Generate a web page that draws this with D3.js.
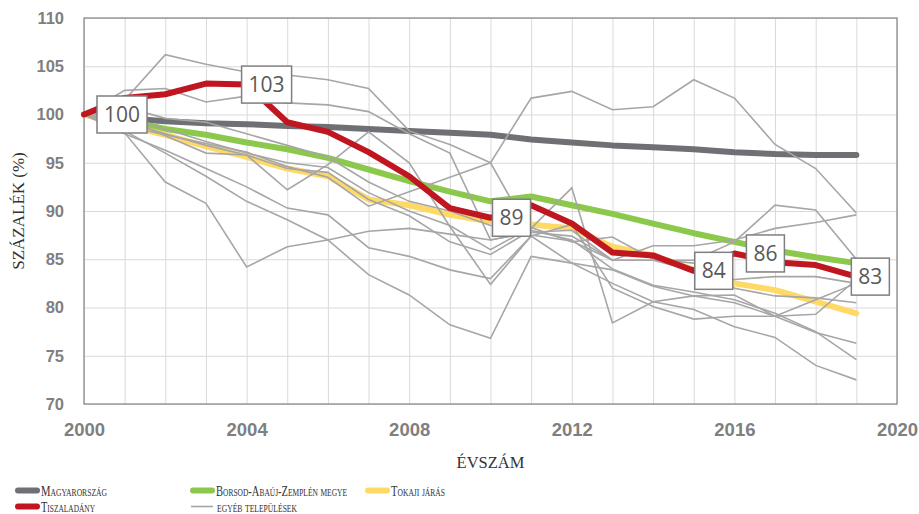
<!DOCTYPE html>
<html>
<head>
<meta charset="utf-8">
<script src="https://d3js.org/d3.v7.min.js"></script>
<style>
  body { margin: 0; background: #fff; }
  svg { display: block; }
  .tick text { font-family: "Liberation Sans", Arial, sans-serif; font-weight: bold; fill: #7f7f7f; }
  .title { font-family: "Liberation Serif", "DejaVu Serif", serif; fill: #333; }
  .leg { font-family: "Liberation Serif", "DejaVu Serif", serif; font-variant: small-caps; fill: #333; }
</style>
</head>
<body>
<svg></svg>
<script>
// years and series
var years = d3.range(2000, 2020);

var magyarorszag = [100, 99.6, 99.3, 99.1, 99.0, 98.8, 98.7, 98.5, 98.3, 98.1, 97.9, 97.4, 97.1, 96.8, 96.6, 96.4, 96.1, 95.9, 95.8, 95.8];
var borsod = [100, 99.4, 98.5, 97.9, 97.1, 96.4, 95.5, 94.3, 93.1, 92.0, 91.0, 91.5, 90.6, 89.7, 88.7, 87.7, 86.8, 85.9, 85.2, 84.6];
var tokaji = [100, 98.9, 97.9, 96.7, 95.6, 94.4, 93.6, 91.2, 90.6, 89.6, 88.9, 88.6, 88.2, 86.3, 85.4, 83.9, 82.5, 81.8, 80.6, 79.4];
var tiszaladany = [100, 101.7, 102.1, 103.2, 103.1, 99.2, 98.2, 96.1, 93.6, 90.3, 89.3, 90.6, 88.7, 85.7, 85.4, 83.8, 85.6, 84.7, 84.4, 83.2];

var egyeb = [
  [100, 101.5, 106.2, 105.2, 104.4, 104.1, 103.6, 102.7, 98.3, 96.9, 95.0, 101.7, 102.4, 100.5, 100.8, 103.6, 101.7, 96.9, 94.4, 89.8],
  [100, 102.5, 102.7, 101.3, 101.9, 101.2, 101.0, 100.3, 98.0, 96.0, 87.0, 87.8, 87.4, 84.9, 84.9, 84.9, 86.8, 90.6, 90.1, 85.0],
  [100, 99.6, 97.8, 96.0, 95.8, 92.2, 94.8, 98.2, 95.0, 88.4, 82.4, 87.4, 88.6, 82.0, 80.1, 78.8, 79.1, 79.1, 80.8, 82.5],
  [100, 98.8, 97.9, 97.0, 96.1, 94.6, 93.5, 90.5, 92.0, 93.5, 95.0, 87.5, 86.9, 84.9, 84.9, 83.8, 82.9, 83.2, 83.2, 82.5],
  [100, 98.1, 93.0, 90.8, 84.2, 86.3, 87.0, 87.9, 88.2, 87.6, 87.0, 87.8, 88.0, 84.9, 86.4, 86.4, 87.0, 88.2, 88.8, 89.6],
  [100, 98.0, 96.3, 94.4, 92.5, 90.3, 89.6, 86.2, 85.3, 83.9, 83.0, 87.4, 84.6, 83.9, 82.2, 81.2, 80.5, 79.1, 77.4, 76.3],
  [100, 98.3, 96.0, 93.6, 91.0, 89.1, 87.0, 83.4, 81.3, 78.2, 76.8, 85.3, 84.6, 82.5, 80.6, 79.8, 78.0, 76.9, 74.0, 72.5],
  [100, 99.3, 98.0, 96.8, 95.8, 94.4, 94.0, 91.2, 89.5, 86.8, 85.5, 88.0, 87.0, 84.0, 82.3, 81.6, 80.8, 79.4, 77.5, 74.6],
  [100, 99.8, 98.5, 97.2, 96.0, 95.0, 94.5, 91.9, 90.0, 88.5, 86.0, 88.3, 86.8, 87.3, 85.0, 84.6, 82.0, 81.2, 81.0, 80.5],
  [100, 100.8, 99.6, 99.2, 98.0, 96.8, 95.6, 93.0, 91.0, 90.0, 88.5, 88.2, 92.4, 78.4, 80.6, 81.2, 81.3, 79.1, 79.3, 82.9]
];

// data labels on the Tiszaladány line
var labelYears = [2000, 2004, 2010, 2015, 2016, 2019];
var labelTexts = ['100', '103', '89', '84', '86', '83'];
var labelShift = [38, 20, 21, 20, 31, 14];

var yTicks = [70, 75, 80, 85, 90, 95, 100, 105, 110];
var xTicks = [2000, 2004, 2008, 2012, 2016, 2020];

// size
var margin = {top: 18, right: 22, bottom: 110, left: 84},
    W = 919, H = 514,
    width = W - margin.left - margin.right,
    height = H - margin.top - margin.bottom;

var x = d3.scaleLinear().domain([2000, 2020]).range([0, width]);
var y = d3.scaleLinear().domain([70, 110]).range([height, 0]);

var svg = d3.select('svg').attr('width', W).attr('height', H);
var g = svg.append('g').attr('transform', 'translate(' + margin.left + ',' + margin.top + ')');

// grid
g.append('g')
    .call(d3.axisLeft(y).tickValues(yTicks).tickSize(-width).tickFormat(''))
    .call(function (s) { s.select('.domain').remove(); s.selectAll('line').attr('stroke', '#d9d9d9'); });
g.append('g')
    .attr('transform', 'translate(0,' + height + ')')
    .call(d3.axisBottom(x).tickValues(d3.range(2000, 2021)).tickSize(-height).tickFormat(''))
    .call(function (s) { s.select('.domain').remove(); s.selectAll('line').attr('stroke', '#d9d9d9'); });

// frame
g.append('rect')
    .attr('width', width).attr('height', height)
    .attr('fill', 'none').attr('stroke', '#8c8c8c').attr('stroke-width', 1.3);

// tick labels
g.append('g')
    .call(d3.axisLeft(y).tickValues(yTicks).tickSize(0).tickPadding(20))
    .call(function (s) { s.select('.domain').remove(); s.selectAll('text').style('font-size', '16.5px'); });
g.append('g')
    .attr('transform', 'translate(0,' + height + ')')
    .call(d3.axisBottom(x).tickValues(xTicks).tickFormat(d3.format('d')).tickSize(0).tickPadding(19))
    .call(function (s) { s.select('.domain').remove(); s.selectAll('text').style('font-size', '18.5px'); });

// axis titles
svg.append('text').attr('class', 'title')
    .attr('transform', 'translate(23.5,' + (margin.top + height / 2) + ') rotate(-90)')
    .attr('text-anchor', 'middle')
    .style('font-size', '17px')
    .text('SZÁZALÉK (%)');
svg.append('text').attr('class', 'title')
    .attr('x', margin.left + width / 2).attr('y', 468)
    .attr('text-anchor', 'middle')
    .style('font-size', '16.5px')
    .text('ÉVSZÁM');

var line = d3.line()
    .x(function (d, i) { return x(years[i]); })
    .y(function (d) { return y(d); });

function thick(data, color) {
    g.append('path').datum(data)
        .attr('d', line)
        .attr('fill', 'none')
        .attr('stroke', color)
        .attr('stroke-width', 6)
        .attr('stroke-linecap', 'round')
        .attr('stroke-linejoin', 'round');
}

thick(magyarorszag, '#6f7074');
thick(borsod, '#8cc84b');
thick(tokaji, '#ffd966');

// other settlements
g.selectAll('.egyeb').data(egyeb)
    .enter().append('path')
    .attr('class', 'egyeb')
    .attr('d', line)
    .attr('fill', 'none')
    .attr('stroke', '#a6a6a6')
    .attr('stroke-width', 1.6);

thick(tiszaladany, '#c0161f');

// data labels
labelYears.forEach(function (yr, i) {
    var v = tiszaladany[years.indexOf(yr)];
    var cx = x(yr) + labelShift[i], cy = y(v);
    var w = labelTexts[i].length > 2 ? 50 : 38;
    g.append('rect')
        .attr('x', cx - w / 2).attr('y', cy - 18.5)
        .attr('width', w).attr('height', 37)
        .attr('fill', '#fff').attr('stroke', '#7f7f7f').attr('stroke-width', 1.5);
    g.append('text')
        .attr('x', cx).attr('y', cy + 7.5)
        .attr('text-anchor', 'middle')
        .style('font-family', '"Open Sans", sans-serif')
        .style('font-size', '21px')
        .style('fill', '#595959')
        .text(labelTexts[i]);
});

// legend
var legNames = ['Magyarország', 'Borsod-Abaúj-Zemplén megye', 'Tokaji járás', 'Tiszaladány', 'egyéb települések'];
var legColors = ['#6f7074', '#8cc84b', '#ffd966', '#c0161f', '#a6a6a6'];
var legX = [15, 190, 365, 15, 190];
var legRow = [0, 0, 0, 1, 1];
var legTextWidth = [66, 131, 54, 54, 80];

var legend = svg.selectAll('.legend').data(legNames)
    .enter().append('g')
    .attr('class', 'legend')
    .attr('transform', function (d, i) { return 'translate(' + legX[i] + ',' + (490.5 + legRow[i] * 16) + ')'; });

legend.append('line')
    .attr('x1', function (d, i) { return i === 4 ? 1 : 3; })
    .attr('x2', function (d, i) { return i === 4 ? 23 : 22; })
    .attr('stroke', function (d, i) { return legColors[i]; })
    .attr('stroke-width', function (d, i) { return i === 4 ? 1.6 : 6; })
    .attr('stroke-linecap', function (d, i) { return i === 4 ? 'butt' : 'round'; });

legend.append('text')
    .attr('class', 'leg')
    .attr('x', function (d, i) { return i === 4 ? 27 : 26; })
    .attr('y', 5.5)
    .attr('textLength', function (d, i) { return legTextWidth[i]; })
    .attr('lengthAdjust', 'spacingAndGlyphs')
    .style('font-size', '15.5px')
    .text(function (d) { return d; });
</script>
</body>
</html>
